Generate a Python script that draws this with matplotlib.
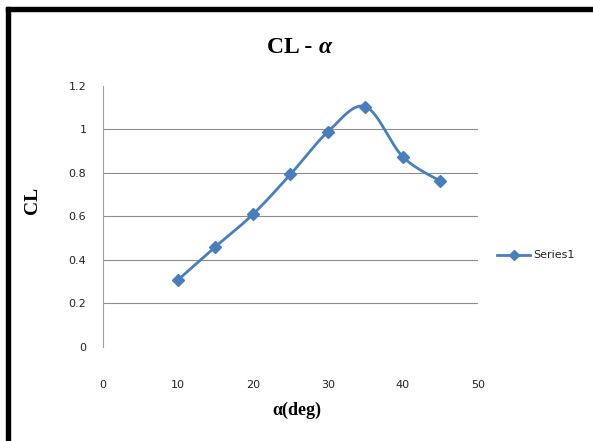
import matplotlib
matplotlib.use("Agg")
import matplotlib.pyplot as plt
from matplotlib.patches import Rectangle
import numpy as np

# CL vs angle of attack
alpha = [10, 15, 20, 25, 30, 35, 40, 45]
cl = [0.307, 0.46, 0.609, 0.793, 0.989, 1.105, 0.874, 0.762]
xticks = [0, 10, 20, 30, 40, 50]
yticks = [0, 0.2, 0.4, 0.6, 0.8, 1, 1.2]
ytick_labels = ["0", "0.2", "0.4", "0.6", "0.8", "1", "1.2"]

BLUE = "#4A7EBB"


def smooth(x, y, n=30):
    """Excel-like smoothed line (Catmull-Rom through the points)."""
    p = np.column_stack([x, y]).astype(float)
    p = np.vstack([p[0], p, p[-1]])
    out = []
    for i in range(1, len(p) - 2):
        p0, p1, p2, p3 = p[i - 1], p[i], p[i + 1], p[i + 2]
        t = np.linspace(0, 1, n)[:, None]
        seg = 0.5 * ((2 * p1) + (-p0 + p2) * t + (2 * p0 - 5 * p1 + 4 * p2 - p3) * t ** 2
                     + (-p0 + 3 * p1 - 3 * p2 + p3) * t ** 3)
        out.append(seg)
    out = np.vstack(out)
    return out[:, 0], out[:, 1]


fig = plt.figure(figsize=(5.93, 4.41), dpi=100)
fig.patch.set_facecolor("white")
ax = fig.add_axes([0.1737, 0.214, 0.632, 0.591])

sx, sy = smooth(alpha, cl)
ax.plot(sx, sy, color=BLUE, lw=2.0, solid_capstyle="round")
ax.plot(alpha, cl, ls="none", marker="D", ms=6.5, color=BLUE)

ax.set_xlim(0, 50)
ax.set_ylim(0, 1.2)
ax.set_xticks(xticks)
ax.set_yticks(yticks)
ax.set_yticklabels(ytick_labels)
ax.tick_params(length=0, labelsize=8, colors="#222222")
ax.tick_params(axis="x", pad=24)
ax.tick_params(axis="y", pad=12)

for v in yticks[1:-1]:
    ax.axhline(v, color="#8c8c8c", lw=0.8, zorder=0)

for s in ["top", "right", "bottom"]:
    ax.spines[s].set_visible(False)
ax.spines["left"].set_color("#a0a0a0")
ax.spines["left"].set_linewidth(0.8)

# title: upright "CL -" with italic alpha
fig.text(0.537, 0.879, "CL - ", ha="right", va="baseline", fontsize=17,
         fontweight="bold", family="Liberation Serif")
fig.text(0.537, 0.879, "α", ha="left", va="baseline", fontsize=17,
         fontweight="bold", style="italic", family="Liberation Serif")
fig.text(0.055, 0.545, "CL", ha="center", va="center", rotation=90, fontsize=14,
         fontweight="bold", family="Liberation Serif")
fig.text(0.501, 0.07, "α(deg)", ha="center", va="center", fontsize=13,
         fontweight="bold", family="Liberation Serif")

# legend entry
fig.lines.append(plt.Line2D([497 / 593, 530 / 593], [1 - 255 / 441] * 2,
                            transform=fig.transFigure, color=BLUE, lw=2.0))
fig.lines.append(plt.Line2D([513.5 / 593], [1 - 255 / 441], transform=fig.transFigure,
                            color=BLUE, marker="D", ms=5, ls="none"))
fig.text(533 / 593, 1 - 255 / 441, "Series1", ha="left", va="center", fontsize=8,
         color="#222222")

# frame (left and top edges)
fig.patches.append(Rectangle((6 / 593, 0), 4 / 593, 1 - 7 / 441, transform=fig.transFigure,
                             color="black", zorder=10))
fig.patches.append(Rectangle((6 / 593, 1 - 11 / 441), 1 - 6 / 593, 4 / 441,
                             transform=fig.transFigure, color="black", zorder=10))

fig.savefig("out.png", dpi=100)
